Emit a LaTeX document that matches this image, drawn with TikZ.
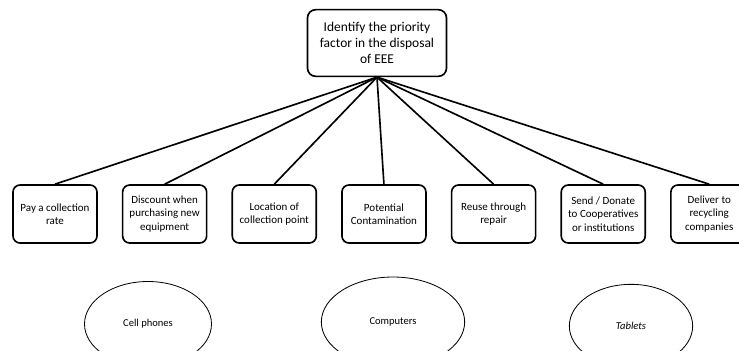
\documentclass[tikz,border=0pt]{standalone}
\usepackage{fontspec}
\setmainfont{Carlito}
\usepackage{tikz}
\usetikzlibrary{shapes,positioning}
\hyphenpenalty=10000
\exhyphenpenalty=10000

\begin{document}
\begin{tikzpicture}[x=0.03cm,y=-0.03cm,
  mytop/.style={draw,rounded corners=7pt,line width=1.4pt,minimum width=4.17cm,minimum height=2cm,align=center,inner sep=1pt,font=\fontsize{11.5}{13.8}\selectfont},
  mybox/.style={draw,rounded corners=6pt,line width=1.4pt,minimum width=2.52cm,minimum height=1.74cm,align=center,inner sep=1pt,font=\fontsize{9.4}{11.3}\selectfont},
  myell/.style={draw,ellipse,line width=0.7pt,font=\fontsize{9}{11}\selectfont},
 ]
\useasboundingbox (0,0) rectangle (739,350);

\node[mytop] (T) at (377,43) {Identify the priority\\factor in the disposal\\of EEE};

\node[mybox] (B1) at (55,214) {Pay a collection\\rate};
\node[mybox, right=0.72cm of B1] (B2) {Discount when\\purchasing new\\equipment};
 \node[mybox, right=0.72cm of B2] (B3) {Location of\\collection point};
 \node[mybox, right=0.72cm of B3] (B4) {Potential\\Contamination};
 \node[mybox, right=0.72cm of B4] (B5) {Reuse through\\repair};
 \node[mybox, right=0.72cm of B5] (B6) {Send / Donate\\to Cooperatives\\or institutions};
 \node[mybox, right=0.72cm of B6, minimum width=2.3cm] (B7) {Deliver to\\recycling\\companies};

\node[myell, minimum width=3.81cm, minimum height=2.55cm] (E1) at (148,324) {Cell phones};
\node[myell, minimum width=4.3cm, minimum height=2.7cm] (E2) at (393,322) {Computers};
\node[myell, minimum width=3.7cm, minimum height=2.5cm] (E3) at (631,326) {\itshape Tablets};

\path[line width=1.4pt]
(T.south) edge (B1.north)
(T.south) edge (B2.north)
(T.south) edge (B3.north)
(T.south) edge (B4.north)
(T.south) edge (B5.north)
(T.south) edge (B6.north)
(T.south) edge (B7.north);

\end{tikzpicture}
\end{document}
